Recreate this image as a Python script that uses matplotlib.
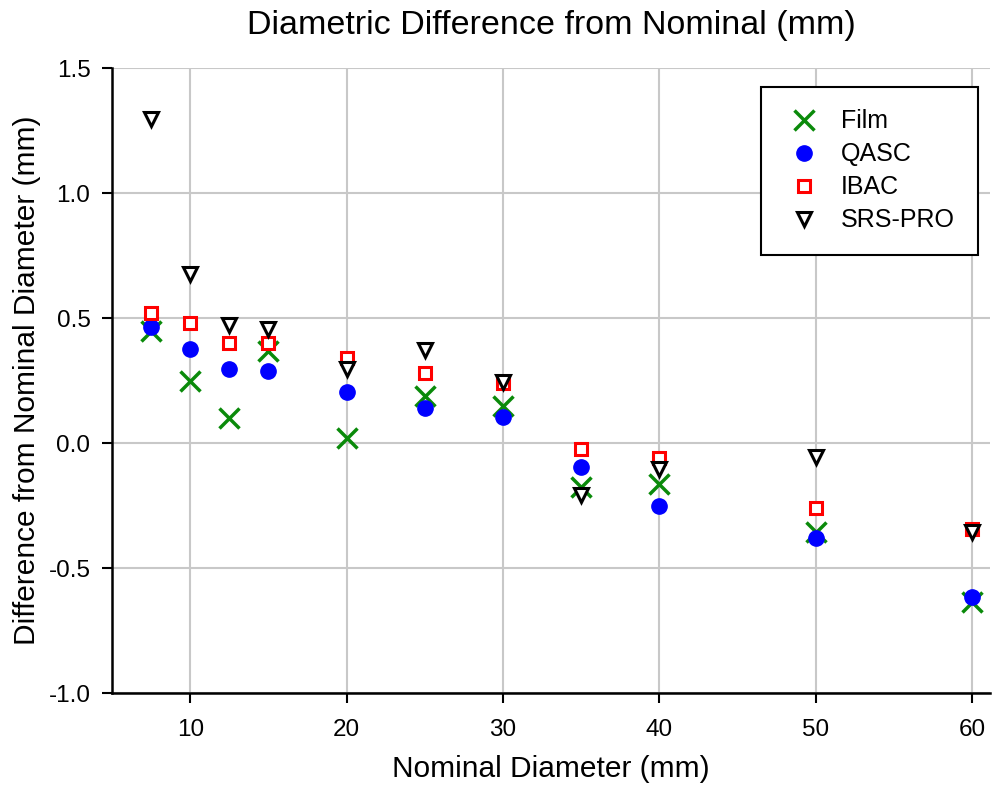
import matplotlib
matplotlib.use("Agg")
import matplotlib.pyplot as plt

plt.rcParams['font.family'] = ['Liberation Sans', 'DejaVu Sans']

nominal = [7.5, 10, 12.5, 15, 20, 25, 30, 35, 40, 50, 60]
film = [0.45, 0.25, 0.10, 0.37, 0.02, 0.19, 0.15, -0.175, -0.165, -0.355, -0.635]
qasc = [0.465, 0.375, 0.295, 0.29, 0.205, 0.14, 0.105, -0.095, -0.25, -0.38, -0.615]
ibac = [0.52, 0.48, 0.40, 0.40, 0.34, 0.28, 0.24, -0.024, -0.06, -0.26, -0.345]
srs = [1.295, 0.675, 0.472, 0.455, 0.295, 0.372, 0.245, -0.208, -0.105, -0.055, -0.355]

xticks = [10, 20, 30, 40, 50, 60]
yticks = [-1.0, -0.5, 0.0, 0.5, 1.0, 1.5]

fig = plt.figure(figsize=(9.93, 7.92), dpi=100)
ax = fig.add_axes([0.1128, 0.125, 0.8842, 0.789])

ax.plot(nominal, film, 'x', color='#0a8a0a', ms=15, mew=2.5, ls='none', label='Film', zorder=3)
ax.plot(nominal, qasc, 'o', color='#0000ff', ms=11, ls='none', label='QASC', zorder=4)
ax.plot(nominal, ibac, 's', mfc='white', mec='#ff0000', ms=9, mew=2.2, ls='none', label='IBAC', zorder=5)
ax.plot(nominal, srs, 'v', mfc='white', mec='black', ms=9.5, mew=2.2, ls='none', label='SRS-PRO', zorder=6)

ax.set_xlim(5, 61.15)
ax.set_ylim(-1.0, 1.5)
ax.set_xticks(xticks)
ax.set_yticks(yticks)
ax.set_yticklabels([f'{v:.1f}' for v in yticks])
ax.grid(True, color='#c8c8c8', lw=1.5)
ax.set_axisbelow(True)
for s in ['top', 'right']:
    ax.spines[s].set_visible(False)
for s in ['left', 'bottom']:
    ax.spines[s].set_linewidth(1.8)
ax.tick_params(direction='out', length=7, width=1.5, labelsize=17.5)
ax.tick_params(axis='x', pad=12)
ax.tick_params(axis='y', pad=8.5)

ax.set_xlabel('Nominal Diameter (mm)', fontsize=21.5)
ax.set_ylabel('Difference from Nominal Diameter (mm)', fontsize=21.5)
ax.xaxis.set_label_coords(0.5, -0.1)
ax.yaxis.set_label_coords(-0.081, 0.5)
ax.set_title('Diametric Difference from Nominal (mm)', fontsize=24.5, y=1.0544, pad=0)

leg = ax.legend(loc='upper right', bbox_to_anchor=(0.986, 0.97), fontsize=18,
                frameon=True, fancybox=False, edgecolor='black', framealpha=1,
                borderpad=0.9, labelspacing=0.36, handlelength=1.6, handletextpad=0.7,
                borderaxespad=0)
leg.get_frame().set_linewidth(1.5)

fig.savefig('out.png', dpi=100)
